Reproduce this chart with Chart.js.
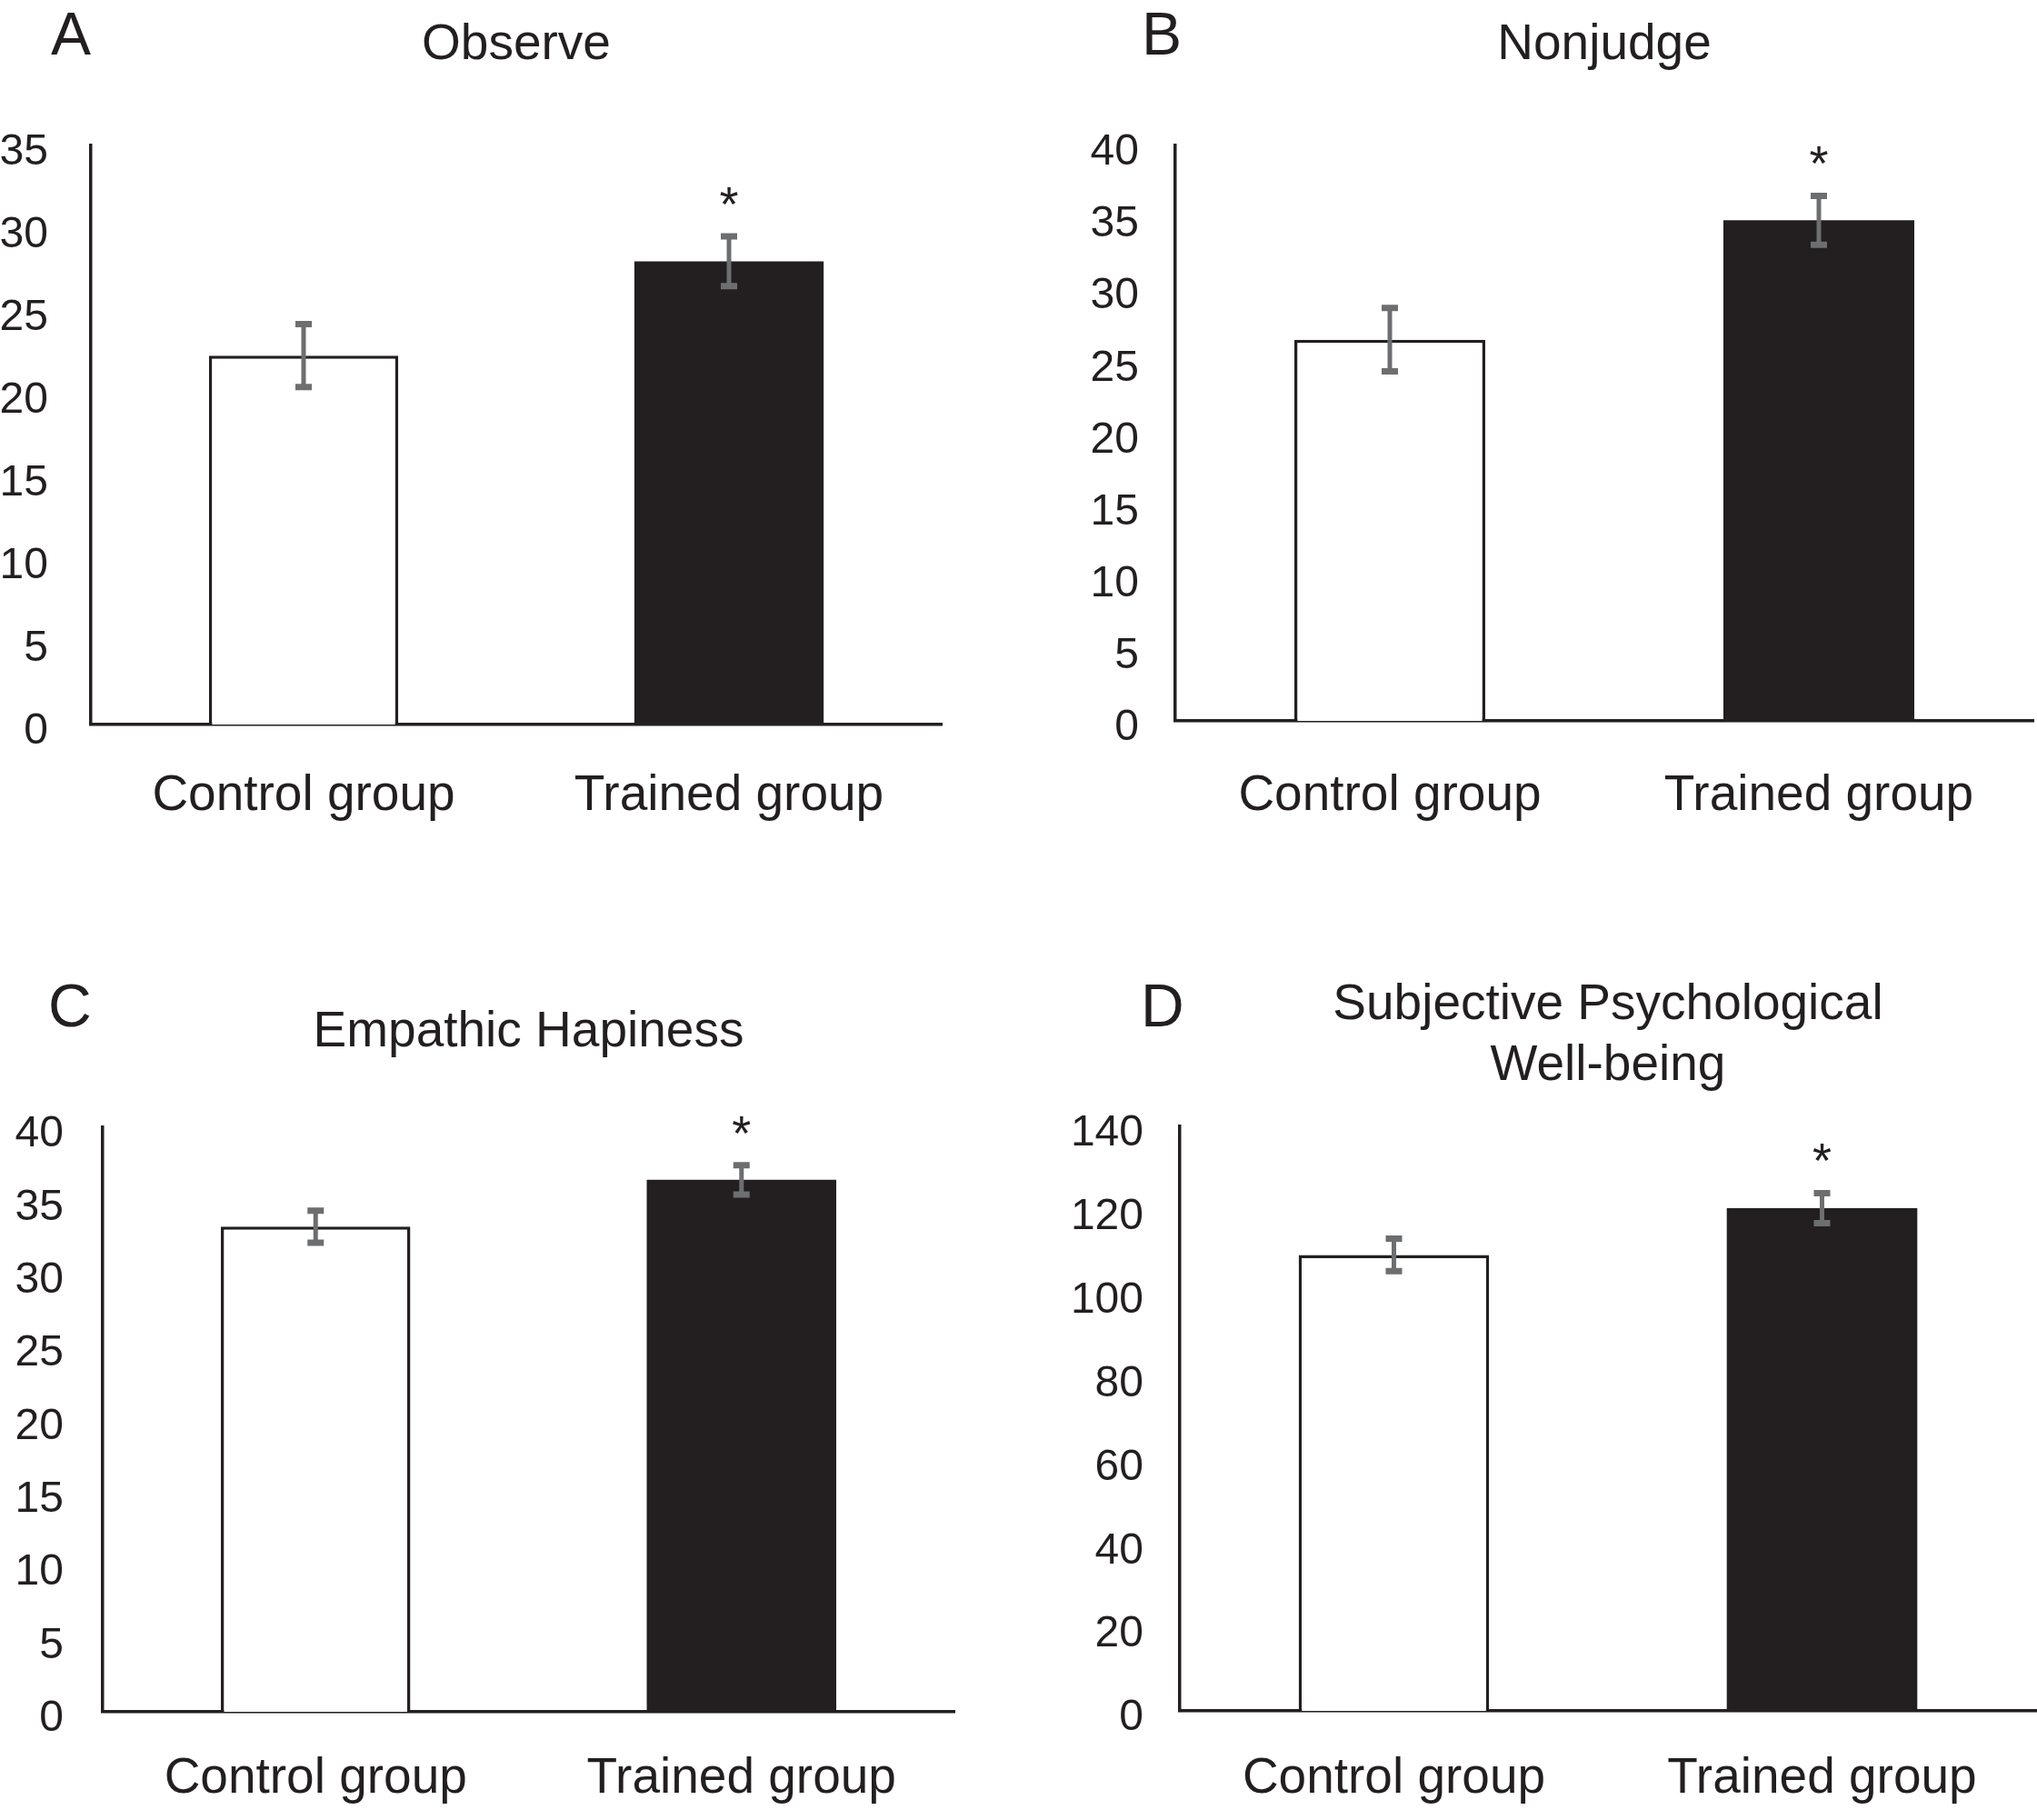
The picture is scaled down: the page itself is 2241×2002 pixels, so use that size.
<!DOCTYPE html>
<html>
<head>
<meta charset="utf-8">
<title>Observe, Nonjudge, Empathic Hapiness, Well-being</title>
<script src="https://cdn.jsdelivr.net/npm/chart.js@4.4.1/dist/chart.umd.min.js"></script>
<style>
    body {
        margin: 0;
        width: 2241px;
        height: 2002px;
        position: relative;
        overflow: hidden;
        background: #fff;
        font-family: "Liberation Sans", Arial, sans-serif;
        color: #231f20;
    }
    .panel { position: absolute; }
    .letter { position: absolute; font-size: 66px; line-height: 76px; }
    .title { position: absolute; font-size: 55px; line-height: 67px; text-align: center; }
</style>
</head>
<body>

<div class="letter" style="left:56px; top:-1px;">A</div>
<div class="letter" style="left:1256px; top:-1px;">B</div>
<div class="letter" style="left:53px; top:1068px;">C</div>
<div class="letter" style="left:1255px; top:1068px;">D</div>

<div class="title" id="titleObserve">Observe</div>
<div class="title" id="titleNonjudge">Nonjudge</div>
<div class="title" id="titleEmpathic">Empathic Hapiness</div>
<div class="title" id="titleWellbeing">Subjective Psychological<br>Well-being</div>

<div class="panel" id="boxObserve"><canvas id="chartObserve"></canvas></div>
<div class="panel" id="boxNonjudge"><canvas id="chartNonjudge"></canvas></div>
<div class="panel" id="boxEmpathic"><canvas id="chartEmpathic"></canvas></div>
<div class="panel" id="boxWellbeing"><canvas id="chartWellbeing"></canvas></div>

<script>
// --- Données ---
const groups = ['Control group', 'Trained group'];
const significant = [false, true];

const observeMeans = [22.3, 28.0];
const observeErrors = [1.9, 1.5];

const nonjudgeMeans = [26.5, 34.8];
const nonjudgeErrors = [2.2, 1.7];

const empathicMeans = [33.2, 36.4];
const empathicErrors = [1.1, 1.0];

const wellbeingMeans = [109.2, 120.4];
const wellbeingErrors = [3.9, 3.6];

// bornes des axes y : [max, pas]
const observeAxis = [35, 5];
const nonjudgeAxis = [40, 5];
const empathicAxis = [40, 5];
const wellbeingAxis = [140, 20];

// --- Mise en page (pixels de la page) ---
// x, y, w, h : zone du canvas ; left/top/right/bottom : zone de tracé
const layouts = {
    Observe:   { x: 0,    y: 0,    w: 1120, h: 1000, left: 100,  top: 160,  right: 1036, bottom: 797,  labelPad: 46, tickPad: 47, titleTop: 13 },
    Nonjudge:  { x: 1120, y: 0,    w: 1121, h: 1000, left: 1293, top: 160,  right: 2237, bottom: 793,  labelPad: 50, tickPad: 40, titleTop: 13 },
    Empathic:  { x: 0,    y: 1000, w: 1120, h: 1002, left: 113,  top: 1240, right: 1050, bottom: 1883, labelPad: 41, tickPad: 43, titleTop: 1099 },
    Wellbeing: { x: 1120, y: 1000, w: 1121, h: 1002, left: 1298, top: 1239, right: 2240, bottom: 1882, labelPad: 42, tickPad: 40, titleTop: 1069 }
};

const INK = '#231f20';
const ERR_GREY = '#6d6e70';

Chart.defaults.font.family = '"Liberation Sans", Arial, sans-serif';
Chart.defaults.color = INK;

// Barres d'erreur + astérisque de significativité
const errorBarPlugin = {
    id: 'errorBars',
    afterDatasetsDraw(chart, args, opts) {
        const ctx = chart.ctx;
        const yScale = chart.scales.y;
        const values = chart.data.datasets[0].data;
        const meta = chart.getDatasetMeta(0);
        ctx.save();
        meta.data.forEach((bar, i) => {
            const yTop = yScale.getPixelForValue(values[i] + opts.errors[i]);
            const yBot = yScale.getPixelForValue(values[i] - opts.errors[i]);
            ctx.strokeStyle = ERR_GREY;
            ctx.lineWidth = 5;
            ctx.beginPath();
            ctx.moveTo(bar.x, yTop);
            ctx.lineTo(bar.x, yBot);
            ctx.stroke();
            ctx.lineWidth = 7;
            ctx.beginPath();
            ctx.moveTo(bar.x - 9, yTop);
            ctx.lineTo(bar.x + 9, yTop);
            ctx.moveTo(bar.x - 9, yBot);
            ctx.lineTo(bar.x + 9, yBot);
            ctx.stroke();
            if (opts.stars[i]) {
                ctx.fillStyle = INK;
                ctx.font = '54px "Liberation Sans", Arial, sans-serif';
                ctx.textAlign = 'center';
                ctx.textBaseline = 'middle';
                ctx.fillText('*', bar.x, yTop - 32);
            }
        });
        ctx.restore();
    }
};

function makePanel(name, means, errors, axis) {
    const box = layouts[name];
    const holder = document.getElementById('box' + name);
    holder.style.left = box.x + 'px';
    holder.style.top = box.y + 'px';
    holder.style.width = box.w + 'px';
    holder.style.height = box.h + 'px';

    const title = document.getElementById('title' + name);
    title.style.left = box.left + 'px';
    title.style.width = (box.right - box.left) + 'px';
    title.style.top = box.titleTop + 'px';

    return new Chart(document.getElementById('chart' + name), {
        type: 'bar',
        data: {
            labels: groups,
            datasets: [{
                data: means,
                backgroundColor: ['#ffffff', INK],
                borderColor: INK,
                borderWidth: [3.5, 0],
                borderSkipped: 'bottom',
                barPercentage: 0.445,
                categoryPercentage: 1.0
            }]
        },
        options: {
            responsive: true,
            maintainAspectRatio: false,
            animation: false,
            events: [],
            layout: {
                padding: { top: box.top - box.y, right: box.x + box.w - box.right, left: 0, bottom: 0 }
            },
            scales: {
                x: {
                    grid: { display: false, drawTicks: false },
                    border: { color: INK, width: 3.5 },
                    ticks: { font: { size: 55 }, padding: box.labelPad, color: INK },
                    afterFit: s => { s.height = box.y + box.h - box.bottom; }
                },
                y: {
                    min: 0,
                    max: axis[0],
                    grid: { display: false, drawTicks: false },
                    border: { color: INK, width: 3.5 },
                    ticks: { stepSize: axis[1], font: { size: 48 }, padding: box.tickPad, labelOffset: 8, color: INK, autoSkip: false },
                    afterFit: s => { s.width = box.left - box.x; }
                }
            },
            plugins: {
                legend: { display: false },
                tooltip: { enabled: false },
                errorBars: { errors: errors, stars: significant }
            }
        },
        plugins: [errorBarPlugin]
    });
}

makePanel('Observe', observeMeans, observeErrors, observeAxis);
makePanel('Nonjudge', nonjudgeMeans, nonjudgeErrors, nonjudgeAxis);
makePanel('Empathic', empathicMeans, empathicErrors, empathicAxis);
makePanel('Wellbeing', wellbeingMeans, wellbeingErrors, wellbeingAxis);
</script>
</body>
</html>
